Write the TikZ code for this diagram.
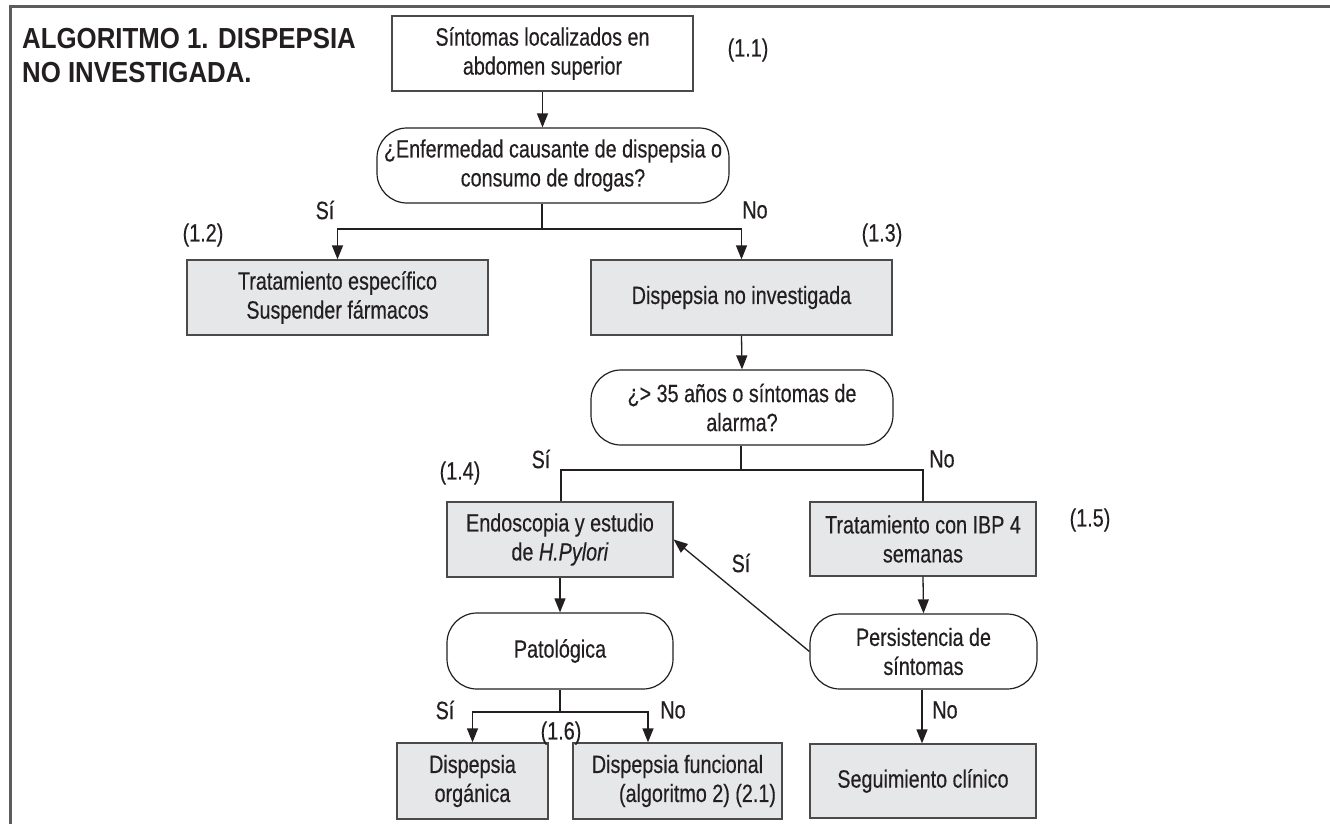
\documentclass[tikz,border=0pt]{standalone}
\usepackage{fontspec}
\setmainfont{Liberation Sans}[FakeStretch=0.79,FakeBold=0.35]
\newfontfamily\titlefont{Liberation Sans}[FakeStretch=0.89]
\usetikzlibrary{arrows.meta,calc}
\definecolor{ink}{HTML}{231F20}
\definecolor{boxgray}{HTML}{E6E7E8}
\definecolor{edge}{HTML}{4A4A4A}
\begin{document}
\begin{tikzpicture}[x=1pt,y=-1pt,
  every node/.style={font=\fontsize{25}{29}\selectfont, text=ink, inner sep=0pt, align=center},
  plainbox/.style={draw=edge, line width=1.3pt, fill=white},
  graybox/.style={draw=edge, line width=1.3pt, fill=boxgray},
  decision/.style={draw=ink, line width=1.2pt, fill=white, rounded corners=30pt},
  conn/.style={draw=ink, line width=1.3pt},
  arr/.style={conn, -{Triangle[length=14pt,width=11pt]}},
  lbl/.style={}
]
\useasboundingbox (0,0) rectangle (1330,824);
\fill[white] (0,0) rectangle (1330,824);
% frame (top and left only)
\draw[draw=edge!90, line width=2.2pt] (10.5,824) -- (10.5,6.5) -- (1330,6.5);

% title
\node[anchor=base west, font=\titlefont\bfseries\fontsize{29}{34}\selectfont] (t1) at (22,49) {ALGORITMO 1. DISPEPSIA};
\node[anchor=base west, font=\titlefont\bfseries\fontsize{29}{34}\selectfont] (t2) at (22,83) {NO INVESTIGADA.};

% nodes
\node[plainbox, minimum width=301pt, minimum height=75pt] (n11) at (542.5,53.5) {Síntomas localizados en\\abdomen superior};
\node[decision, minimum width=352pt, minimum height=75pt] (q1) at (553,165.5) {¿Enfermedad causante de dispepsia o\\consumo de drogas?};
\node[graybox, minimum width=301pt, minimum height=75pt] (n12) at (337.5,297.5) {Tratamiento específico\\Suspender fármacos};
\node[graybox, minimum width=301pt, minimum height=75pt] (n13) at (741.5,297.5) {Dispepsia no investigada};
\node[decision, minimum width=302pt, minimum height=75pt] (q2) at (742,407.5) {¿> 35 años o síntomas de\\alarma?};
\node[graybox, minimum width=226pt, minimum height=75pt] (n14) at (560,539.5) {Endoscopia y estudio\\de \textit{H.Pylori}};
\node[graybox, minimum width=226pt, minimum height=74pt] (n15) at (923,539) {Tratamiento con IBP 4\\semanas};
\node[decision, minimum width=226pt, minimum height=76pt] (pat) at (560,651) {Patológica};
\node[decision, minimum width=227pt, minimum height=75pt] (per) at (923.5,651.5) {Persistencia de\\síntomas};
\node[graybox, minimum width=151pt, minimum height=76pt] (n16a) at (472.5,781) {Dispepsia\\orgánica};
\node[graybox, minimum width=209pt, minimum height=76pt] (n16b) at (677.5,781) {Dispepsia funcional\\\hspace*{40pt}(algoritmo 2) (2.1)};
\node[graybox, minimum width=226pt, minimum height=74pt] (seg) at (923,781) {Seguimiento clínico};

% junctions
\coordinate (j1) at (542,229);
\coordinate (j2) at (741,470);
\coordinate (j3) at (560,712);

% connectors
\draw[arr] (n11.south) -- (n11.south |- q1.north);
\draw[conn] (j1 |- q1.south) -- (j1);
\draw[arr] (j1) -| (n12.north);
\draw[arr] (j1) -| (n13.north);
\draw[arr] (n13.south) -- (q2.north);
\draw[conn] (j2 |- q2.south) -- (j2);
\draw[conn] (j2) -| ([xshift=1pt]n14.north);
\draw[conn] (j2) -| (n15.north);
\draw[arr] (n14.south) -- (pat.north);
\draw[arr] (n15.south) -- (per.north);
\draw[arr] ([xshift=-1.5pt]per.south) -- ([xshift=-1.5pt]per.south |- seg.north);
\draw[arr] (per.west) -- (n14.east);
\draw[conn] (pat.south) -- (j3);
\draw[arr] (j3) -| (n16a.north);
\draw[arr] (j3) -| ([xshift=-29.5pt]n16b.north);

% labels
\node[lbl] (l11) at (748,50) {(1.1)};
\node[lbl] (ls1) at (325,210) {Sí};
\node[lbl] (ln1) at (755,210) {No};
\node[lbl] (l12) at (203,235) {(1.2)};
\node[lbl] (l13) at (882,235) {(1.3)};
\node[lbl] (ls2) at (541,459) {Sí};
\node[lbl] (ln2) at (942,459) {No};
\node[lbl] (l14) at (460,473) {(1.4)};
\node[lbl] (l15) at (1090,520) {(1.5)};
\node[lbl] (ls3) at (741,563) {Sí};
\node[lbl] (ls4) at (445,710) {Sí};
\node[lbl] (ln4) at (673,710) {No};
\node[lbl] (l16) at (561,733) {(1.6)};
\node[lbl] (ln5) at (945,710) {No};
\end{tikzpicture}
\end{document}
